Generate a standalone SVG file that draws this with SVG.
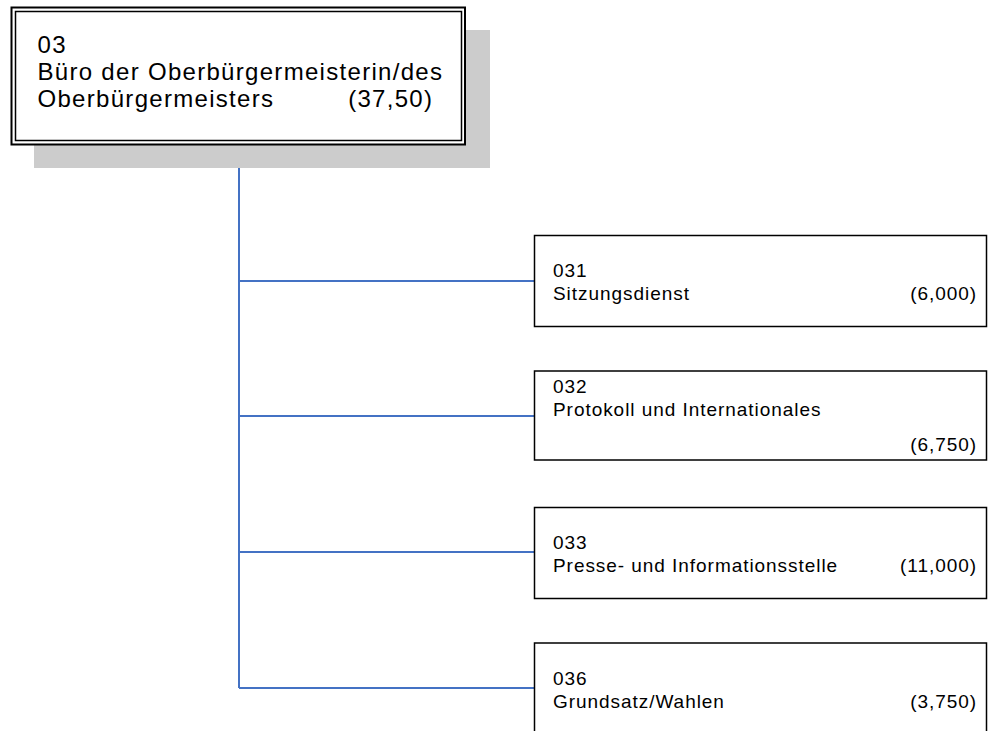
<svg xmlns="http://www.w3.org/2000/svg" width="988" height="731" viewBox="0 0 988 731">
<style>
text{font-family:"Liberation Sans",Arial,sans-serif;fill:#000}
.main{font-size:24px;letter-spacing:1.3px}
.sub{font-size:19px;letter-spacing:0.95px}
.box{fill:#fff;stroke:#000;stroke-width:1.5}
.conn{stroke:#4472C4;stroke-width:2;fill:none}
</style>
<rect width="988" height="731" fill="#fff"/>
<g id="connectors">
<path class="conn" d="M239 145V688M239 281H534M239 416H534M239 552H534M239 688H534"/>
</g>
<g id="n03">
<rect x="34" y="30" width="456" height="138" fill="#cccccc"/>
<rect x="11.5" y="7.5" width="453.5" height="137" fill="#fff" stroke="#000" stroke-width="2"/>
<rect x="15.5" y="11.5" width="446" height="129" fill="none" stroke="#000" stroke-width="1.5"/>
<text class="main" x="37.5" y="52.5">03</text>
<text class="main" x="37.5" y="79.5">Büro der Oberbürgermeisterin/des</text>
<text class="main" x="37.5" y="106.5">Oberbürgermeisters</text>
<text class="main" x="433.3" y="106.5" text-anchor="end">(37,50)</text>
</g>
<g id="n031">
<rect class="box" x="534.5" y="235.5" width="452" height="91"/>
<text class="sub" x="553" y="276.5">031</text>
<text class="sub" x="553" y="299.5">Sitzungsdienst</text>
<text class="sub" x="977" y="299.5" text-anchor="end">(6,000)</text>
</g>
<g id="n032">
<rect class="box" x="534.5" y="371" width="452" height="89"/>
<text class="sub" x="553" y="392.5">032</text>
<text class="sub" x="553" y="415.5">Protokoll und Internationales</text>
<text class="sub" x="977" y="450.5" text-anchor="end">(6,750)</text>
</g>
<g id="n033">
<rect class="box" x="534.5" y="507.5" width="452" height="91"/>
<text class="sub" x="553" y="548.5">033</text>
<text class="sub" x="553" y="571.5">Presse- und Informationsstelle</text>
<text class="sub" x="977" y="571.5" text-anchor="end">(11,000)</text>
</g>
<g id="n036">
<rect class="box" x="534.5" y="643" width="452" height="91"/>
<text class="sub" x="553" y="684.5">036</text>
<text class="sub" x="553" y="707.5">Grundsatz/Wahlen</text>
<text class="sub" x="977" y="707.5" text-anchor="end">(3,750)</text>
</g>
</svg>
